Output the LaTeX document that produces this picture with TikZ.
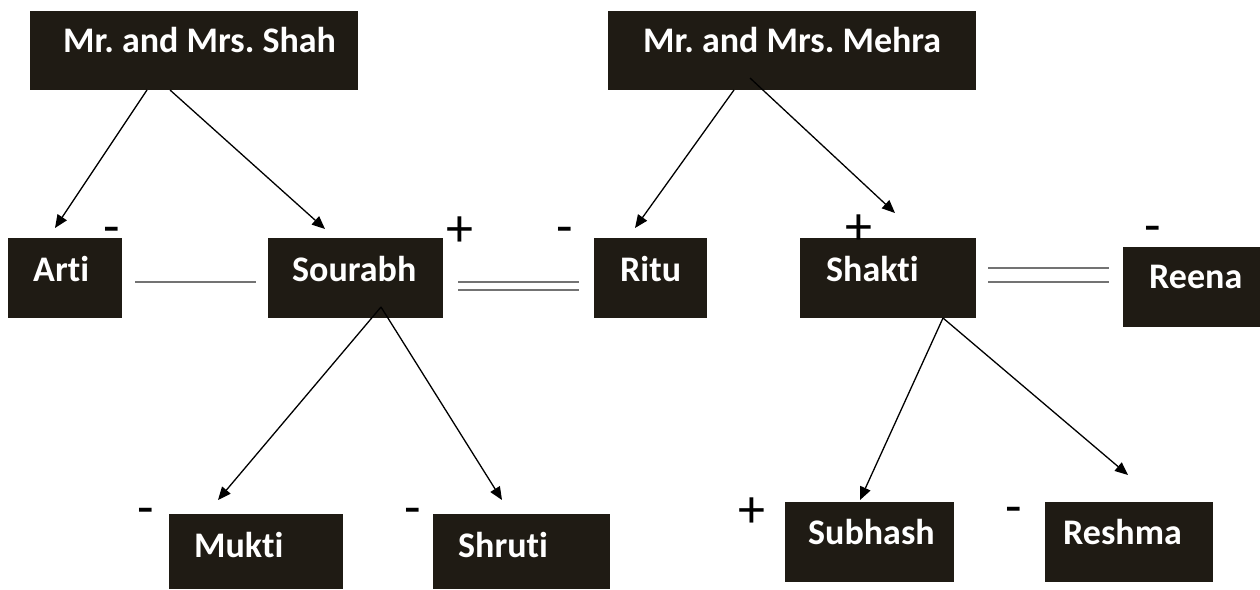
\documentclass[tikz,border=0pt]{standalone}
\usepackage{fontspec}
\setmainfont{Carlito}[Ligatures=NoCommon]
\usetikzlibrary{arrows.meta}
\definecolor{boxfill}{RGB}{31,27,20}
\definecolor{tieline}{RGB}{115,115,115}
\frenchspacing
\begin{document}
\begin{tikzpicture}[x=1pt,y=-1pt,
  person/.style={fill=boxfill, draw=none, inner sep=0, anchor=north west},
  personname/.style={text=white, font=\fontsize{36}{42}\selectfont\bfseries, anchor=base west, inner sep=0},
  gendersign/.style={font=\fontsize{54}{60}\selectfont, inner sep=0, anchor=base},
  descent/.style={draw=black, line width=1.3pt, -{Triangle[length=13pt,width=11pt]}},
  tie/.style={draw=tieline, line width=1.5pt}]
\useasboundingbox (0,0) rectangle (1260,589);

% family boxes
\node[person, minimum width=328, minimum height=79] (shah)    at (30,11)   {};
\node[person, minimum width=368, minimum height=79] (mehra)   at (608,11)  {};
\node[person, minimum width=114, minimum height=80] (arti)    at (8,238)   {};
\node[person, minimum width=175, minimum height=80] (sourabh) at (268,238) {};
\node[person, minimum width=113, minimum height=80] (ritu)    at (594,238) {};
\node[person, minimum width=176, minimum height=80] (shakti)  at (800,238) {};
\node[person, minimum width=137, minimum height=80] (reena)   at (1123,247){};
\node[person, minimum width=174, minimum height=75] (mukti)   at (169,514) {};
\node[person, minimum width=177, minimum height=75] (shruti)  at (433,514) {};
\node[person, minimum width=169, minimum height=80] (subhash) at (785,502) {};
\node[person, minimum width=168, minimum height=80] (reshma)  at (1045,502){};

% names
\node[personname] (shahT)    at (63,52)   {Mr. and Mrs. Shah};
\node[personname] (mehraT)   at (643,52)  {Mr. and Mrs. Mehra};
\node[personname] (artiT)    at (33,281)  {Arti};
\node[personname] (sourabhT) at (292,281) {Sourabh};
\node[personname] (rituT)    at (620,281) {Ritu};
\node[personname] (shaktiT)  at (826,281) {Shakti};
\node[personname] (reenaT)   at (1149,288){Reena};
\node[personname] (muktiT)   at (194,557) {Mukti};
\node[personname] (shrutiT)  at (458,557) {Shruti};
\node[personname] (subhashT) at (808,544) {Subhash};
\node[personname] (reshmaT)  at (1063,544){Reshma};

% gender signs (baseline placed below the stroke)
\node[gendersign] (sArti)    at (112,244) {-};
\node[gendersign] (sSourabh) at (460,246) {+};
\node[gendersign] (sRitu)    at (565,244) {-};
\node[gendersign] (sShakti)  at (859,244) {+};
\node[gendersign] (sReena)   at (1153,243){-};
\node[gendersign] (sMukti)   at (146,525) {-};
\node[gendersign] (sShruti)  at (413,525) {-};
\node[gendersign] (sSubhash) at (752,527) {+};
\node[gendersign] (sReshma)  at (1014,524){-};

% connector end points
\coordinate (shahL)   at (147,90);
\coordinate (shahR)   at (170,90);
\coordinate (artiIn)  at (55,228);
\coordinate (sourIn)  at (325,229);
\coordinate (mehraL)  at (734,90);
\coordinate (mehraR)  at (750,78);
\coordinate (rituIn)  at (635,228);
\coordinate (shakIn)  at (895,213);
\coordinate (sourOut) at (381,307);
\coordinate (muktIn)  at (218,500);
\coordinate (shruIn)  at (502,500);
\coordinate (shakOut) at (943,318);
\coordinate (subhIn)  at (860,500);
\coordinate (reshIn)  at (1128,475);

% parent to child
\draw[descent] (shahL) -- (artiIn);
\draw[descent] (shahR) -- (sourIn);
\draw[descent] (mehraL) -- (rituIn);
\draw[descent] (mehraR) -- (shakIn);
\draw[descent] (sourOut) -- (muktIn);
\draw[descent] (sourOut) -- (shruIn);
\draw[descent] (shakOut) -- (subhIn);
\draw[descent] (shakOut) -- (reshIn);

% sibling and marriage ties
\coordinate (tieA1) at (135,282);  \coordinate (tieA2) at (256,282);
\draw[tie] (tieA1) -- (tieA2);
\coordinate (tieB1) at (458,282);  \coordinate (tieB2) at (579,282);
\coordinate (tieB3) at (458,290);  \coordinate (tieB4) at (579,290);
\draw[tie] (tieB1) -- (tieB2);
\draw[tie] (tieB3) -- (tieB4);
\coordinate (tieC1) at (988,268);  \coordinate (tieC2) at (1109,268);
\coordinate (tieC3) at (988,282);  \coordinate (tieC4) at (1109,282);
\draw[tie] (tieC1) -- (tieC2);
\draw[tie] (tieC3) -- (tieC4);
\end{tikzpicture}
\end{document}
